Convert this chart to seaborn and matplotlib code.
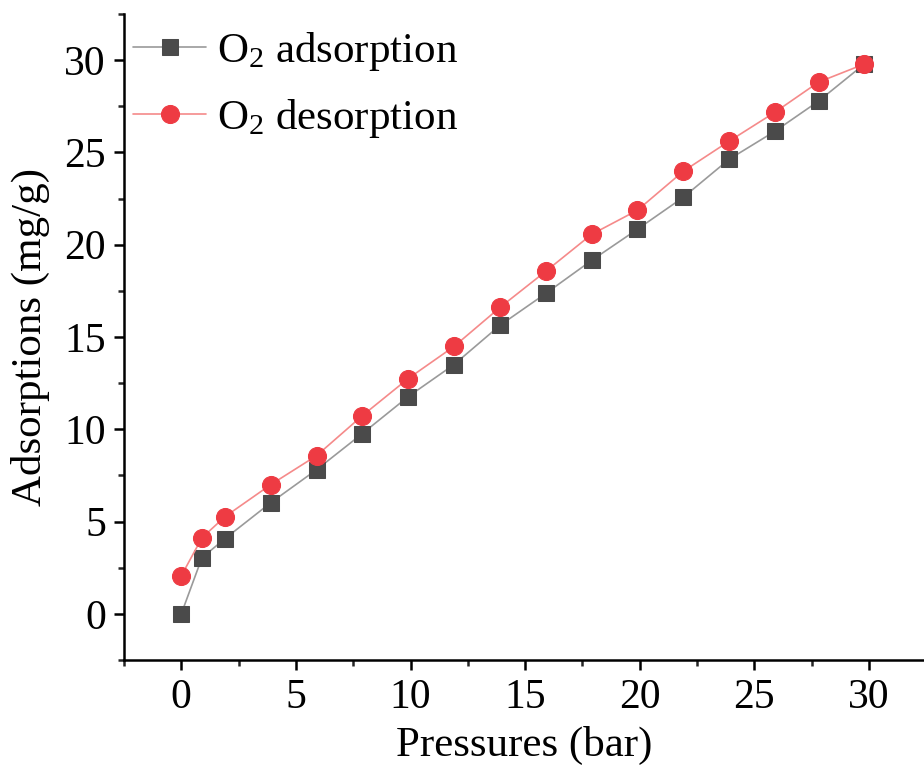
import numpy as np
import pandas as pd
import seaborn as sns
import matplotlib.pyplot as plt
from matplotlib.ticker import MultipleLocator

pressure = [0, 0.9, 1.9, 3.9, 5.9, 7.9, 9.9, 11.9, 13.9, 15.9, 17.9, 19.9, 21.9, 23.9, 25.9, 27.8, 29.8]
adsorption = [0.0, 3.04, 4.07, 6.02, 7.81, 9.77, 11.77, 13.51, 15.63, 17.36, 19.15, 20.84, 22.57, 24.63, 26.15, 27.78, 29.79]
desorption = [2.06, 4.12, 5.26, 7.0, 8.57, 10.74, 12.75, 14.49, 16.6, 18.56, 20.56, 21.87, 23.98, 25.61, 27.18, 28.81, 29.79]

sns.set_style("ticks")
plt.rcParams['font.family'] = ['Liberation Serif', 'DejaVu Serif']
plt.rcParams['mathtext.fontset'] = 'custom'
plt.rcParams['mathtext.rm'] = 'Liberation Serif'
plt.rcParams['mathtext.it'] = 'Liberation Serif'
plt.rcParams['text.color'] = 'black'
plt.rcParams['axes.labelcolor'] = 'black'

df = pd.DataFrame({"p": pressure, "ads": adsorption, "des": desorption})

fig = plt.figure(figsize=(9.24, 7.67), dpi=100)
ax = fig.add_axes([124 / 924, 1 - 660 / 767, 1 - 124 / 924, (660 - 14) / 767])

sns.lineplot(data=df, x="p", y="ads", ax=ax, color="#9a9a9a", lw=1.2,
             marker="s", markersize=12, markerfacecolor="#4a4a4a",
             markeredgecolor="#4a4a4a", label=r"O$_\mathregular{2}$ adsorption")
sns.lineplot(data=df, x="p", y="des", ax=ax, color="#f58a8a", lw=1.2,
             marker="o", markersize=13, markerfacecolor="#ee3b43",
             markeredgecolor="#ee3b43", label=r"O$_\mathregular{2}$ desorption")

ax.set_xlim(-2.5, 32.4)
ax.set_ylim(-2.5, 32.5)
ax.xaxis.set_major_locator(MultipleLocator(5))
ax.xaxis.set_minor_locator(MultipleLocator(2.5))
ax.yaxis.set_major_locator(MultipleLocator(5))
ax.yaxis.set_minor_locator(MultipleLocator(2.5))
ax.tick_params(which="major", direction="out", length=7, width=1.8, labelsize=30, colors="black", pad=6)
ax.tick_params(which="minor", direction="out", length=4, width=1.8)
for s in ["left", "bottom"]:
    ax.spines[s].set_linewidth(1.8)
    ax.spines[s].set_color("black")
sns.despine(ax=ax)

ax.set_xlabel("Pressures (bar)", fontsize=31, labelpad=7)
ax.set_ylabel("Adsorptions (mg/g)", fontsize=31, labelpad=10)

leg = ax.legend(loc="upper left", bbox_to_anchor=(-0.037, 1.035), frameon=False,
                fontsize=31, handlelength=1.7, handletextpad=0.25, labelspacing=0.55)

fig.savefig("out.png", dpi=100)
